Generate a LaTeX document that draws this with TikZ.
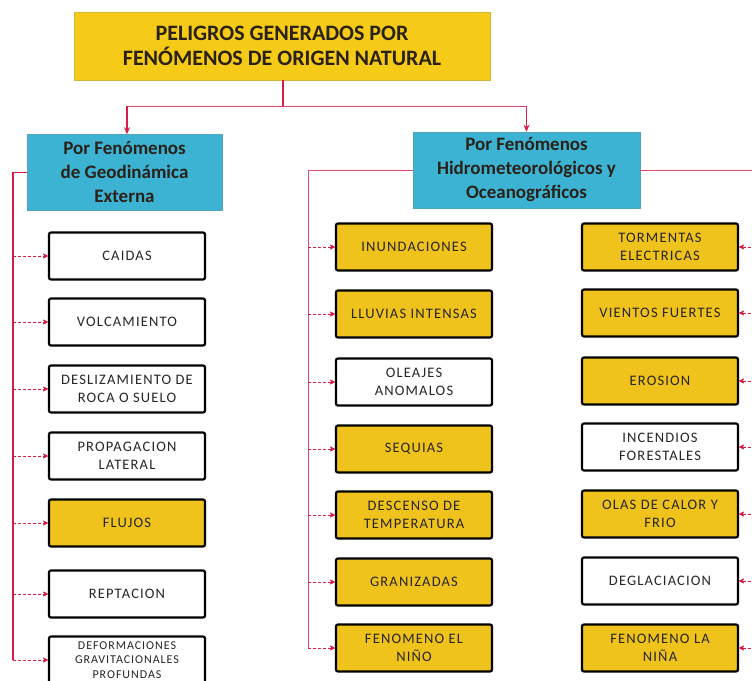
\documentclass[tikz,border=0pt]{standalone}
\usepackage{fontspec}
\setmainfont{Carlito}
\usetikzlibrary{arrows.meta}
\definecolor{goldbox}{HTML}{F0C21C}
\definecolor{titlegold}{HTML}{F5CB17}
\definecolor{bluebox}{HTML}{3DB3D4}
\definecolor{linkred}{HTML}{D81C44}
\definecolor{buspink}{HTML}{E0486A}
\definecolor{darktext}{HTML}{2A2118}
\tikzset{
  titlebox/.style={rectangle, fill=titlegold, draw=titlegold!70!gray, line width=0.8pt,
    minimum width=416pt, minimum height=68pt, align=center, text=darktext,
    font=\fontsize{22}{25}\selectfont\bfseries, inner sep=2pt},
  catbox/.style={rectangle, fill=bluebox, draw=bluebox!70!gray, line width=0.6pt,
    minimum height=76pt, align=center, text=darktext,
    font=\fontsize{19}{24}\selectfont\bfseries, inner sep=1pt},
  itembox/.style={rectangle, rounded corners=2pt, draw=black, line width=2.2pt,
    minimum width=156pt, minimum height=47pt, align=center,
    font=\fontsize{14.5}{18}\selectfont\addfontfeature{LetterSpace=8}, inner sep=1pt, text=black!85},
  ybox/.style={itembox, fill=goldbox},
  wbox/.style={itembox, fill=white},
  mainlink/.style={draw=linkred, line width=1.3pt},
  arrowlink/.style={mainlink, -{Stealth[length=7pt,width=6pt]}},
  bus/.style={draw=linkred, line width=1.1pt},
  thinbus/.style={draw=buspink, line width=0.7pt},
  branch/.style={draw=linkred, line width=0.8pt, densely dashed,
    -{Stealth[length=6pt,width=6pt,round]}},
}
\begin{document}
\begin{tikzpicture}[x=1pt,y=-1pt]
\useasboundingbox (0,0) rectangle (752,680);
\fill[white] (0,0) rectangle (752,680);

% title and categories
\node[titlebox] (title) at (282,46) {PELIGROS GENERADOS POR\\FENÓMENOS DE ORIGEN NATURAL};
\node[catbox, minimum width=195pt] (geo) at (124.5,172.5) {Por Fenómenos\\de Geodinámica\\Externa};
\node[catbox, minimum width=227pt] (hid) at (526.5,170) {Por Fenómenos\\Hidrometeorológicos y\\Oceanográficos};

% left column
\node[wbox] (l1) at (127,256) {CAIDAS};
\node[wbox] (l2) at (127,322) {VOLCAMIENTO};
\node[wbox] (l3) at (127,389) {DESLIZAMIENTO DE\\ROCA O SUELO};
\node[wbox] (l4) at (127,456) {PROPAGACION\\LATERAL};
\node[ybox] (l5) at (127,523) {FLUJOS};
\node[wbox] (l6) at (127,594) {REPTACION};
\node[wbox, font=\fontsize{12}{14.5}\selectfont\addfontfeature{LetterSpace=8}] (l7) at (127,660) {DEFORMACIONES\\GRAVITACIONALES\\PROFUNDAS};

% middle column
\node[ybox] (m1) at (414,247) {INUNDACIONES};
\node[ybox] (m2) at (414,314) {LLUVIAS INTENSAS};
\node[wbox] (m3) at (414,382) {OLEAJES\\ANOMALOS};
\node[ybox] (m4) at (414,449) {SEQUIAS};
\node[ybox] (m5) at (414,515) {DESCENSO DE\\TEMPERATURA};
\node[ybox] (m6) at (414,582) {GRANIZADAS};
\node[ybox] (m7) at (414,648) {FENOMENO EL\\NIÑO};

% right column
\node[ybox] (r1) at (660,247) {TORMENTAS\\ELECTRICAS};
\node[ybox] (r2) at (660,313) {VIENTOS FUERTES};
\node[ybox] (r3) at (660,381) {EROSION};
\node[wbox] (r4) at (660,447) {INCENDIOS\\FORESTALES};
\node[ybox] (r5) at (660,514) {OLAS DE CALOR Y\\FRIO};
\node[wbox] (r6) at (660,581) {DEGLACIACION};
\node[ybox] (r7) at (660,648) {FENOMENO LA\\NIÑA};

% top connectors
\coordinate (j) at (283,106);
\coordinate (jl) at (127,106);
\draw[mainlink] (title.south -| j) -- (j);
\draw[thinbus] (jl) -- (j -| hid.north);
\draw[arrowlink] (jl) -- (jl |- geo.north);
\draw[arrowlink] (j -| hid.north) -- (hid.north);

% buses
\coordinate (lb) at (13,172);
\coordinate (mb) at (308,170);
\coordinate (rb) at (766,168);
\draw[bus] (geo.west) -- (geo.west -| lb) -- (l7.west -| lb);
\draw[thinbus] (hid.west) -- (hid.west -| mb) -- (m7.west -| mb);
\draw[thinbus] (hid.east) -- (hid.east -| rb) -- (r7.east -| rb);

% branches
\foreach \n in {l1,l2,l3,l4,l5,l6,l7}{\draw[branch] (\n.west -| lb) -- (\n.west);}
\foreach \n in {m1,m2,m3,m4,m5,m6,m7}{\draw[branch] (\n.west -| mb) -- (\n.west);}
\foreach \n in {r1,r2,r3,r4,r5,r6,r7}{\draw[branch] (\n.east -| rb) -- (\n.east);}
\end{tikzpicture}
\end{document}
